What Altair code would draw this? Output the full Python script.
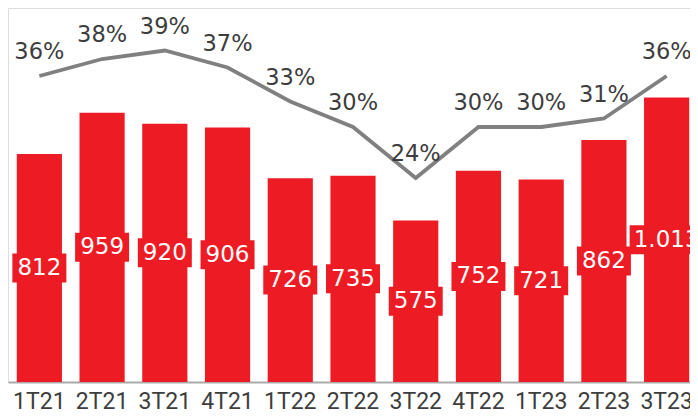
import altair as alt
import pandas as pd

quarters = ["1T21", "2T21", "3T21", "4T21", "1T22", "2T22", "3T22", "4T22", "1T23", "2T23", "3T23"]
values = [812, 959, 920, 906, 726, 735, 575, 752, 721, 862, 1013]
pcts = [36, 38, 39, 37, 33, 30, 24, 30, 30, 31, 36]

df = pd.DataFrame({
    "q": quarters,
    "v": values,
    "p": pcts,
})
df["half"] = df["v"] / 2
df["label"] = [f"{v:,}".replace(",", ".") for v in values]
df["plabel"] = [f"{p}%" for p in pcts]

RED = "#ED1C24"
GRAY = "#808080"
TXT = "#3d3d3d"

x = alt.X("q:N", sort=quarters, title=None,
          scale=alt.Scale(paddingInner=0.28, paddingOuter=0.14, range=[0, 690]),
          axis=alt.Axis(labelAngle=0, ticks=False, domainColor="#aaaaaa", domainWidth=2,
                        labelFontSize=23, labelFont="Roboto", labelColor=TXT,
                        labelPadding=8, grid=False))

ybar = alt.Scale(domain=[0, 1332], nice=False, zero=True)
ypct = alt.Scale(domain=[0, 44], nice=False, zero=True)

base = alt.Chart(df)

bars = base.mark_bar(color=RED).encode(
    x=x, y=alt.Y("v:Q", scale=ybar, axis=None))

boxes = base.transform_calculate(
    bw="length(datum.label) > 3 ? 74 : 54"
).mark_tick(color=RED, thickness=29, opacity=1).encode(
    x=x, y=alt.Y("half:Q", scale=ybar, axis=None),
    size=alt.Size("bw:Q", scale=None, legend=None))

blabels = base.mark_text(color="white", font="DejaVu Sans", fontSize=23, baseline="middle").encode(
    x=x, y=alt.Y("half:Q", scale=ybar, axis=None), text="label:N")

line = base.mark_line(color=GRAY, strokeWidth=3.8).encode(
    x=x, y=alt.Y("p:Q", scale=ypct, axis=None))

plabels = base.mark_text(color=TXT, font="DejaVu Sans", fontSize=22.5, dy=-24, baseline="middle").encode(
    x=x, y=alt.Y("p:Q", scale=ypct, axis=None), text="plabel:N")

chart = alt.layer(bars, boxes, blabels, line, plabels).resolve_scale(
    y="independent"
).properties(
    width=682, height=374,
    autosize=alt.AutoSizeParams(type="none"),
    padding={"left": 0, "top": 0, "right": 0, "bottom": 27},
).configure_view(stroke="transparent").configure(background="white")

chart.save("out.html", embed_options={"renderer": "svg", "actions": False})
